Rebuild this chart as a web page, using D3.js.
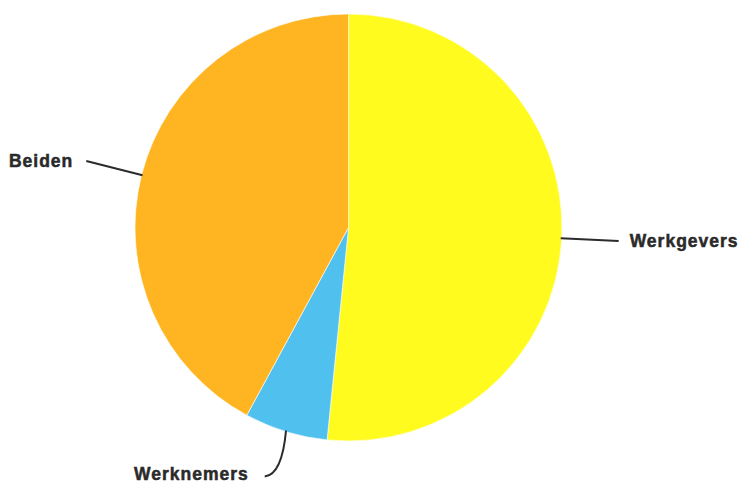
<!DOCTYPE html>
<html>
<head>
<meta charset="utf-8">
<script src="https://cdn.jsdelivr.net/npm/d3@7"></script>
<style>
  html, body { margin: 0; padding: 0; background: #fff; }
  .label { font-family: "Liberation Sans", Arial, sans-serif; font-weight: 700; font-size: 17.5px; letter-spacing: 1px; fill: #2a2a2a; stroke: #2a2a2a; stroke-width: 0.5px; }
</style>
</head>
<body>
<div id="chart"></div>
<script>
// Data (shares in %)
var categories = ['Werkgevers', 'Werknemers', 'Beiden'];
var values = [51.6, 6.3, 42.1];
var colors = ['#fffb1f', '#50c0ef', '#ffb521'];

var width = 745, height = 484;
var cx = 348.5, cy = 227.5, radius = 213.5;

var svg = d3.select('#chart').append('svg')
    .attr('width', width)
    .attr('height', height);

var data = categories.map(function (c, i) { return { name: c, value: values[i], color: colors[i] }; });

var pie = d3.pie().sort(null).value(function (d) { return d.value; });
var arc = d3.arc().innerRadius(0).outerRadius(radius);

var g = svg.append('g').attr('transform', 'translate(' + cx + ',' + cy + ')');
var arcs = pie(data);

g.selectAll('path.slice')
    .data(arcs)
    .join('path')
    .attr('class', 'slice')
    .attr('d', arc)
    .attr('fill', function (d) { return d.data.color; })
    .attr('stroke', '#fff')
    .attr('stroke-width', 0.6);

function mid(d) { return (d.startAngle + d.endAngle) / 2; }
function point(a, r) { return [Math.sin(a) * r, -Math.cos(a) * r]; }
function isBottom(d) { return Math.abs(Math.cos(mid(d))) > 0.8; }

// leader end point; the bottom one drops and bends to the left like in the picture
function leaderEnd(d) {
    var p0 = point(mid(d), radius);
    if (isBottom(d)) return [p0[0] - 21, p0[1] + 45];
    return point(mid(d), radius + 57);
}

g.selectAll('path.leader')
    .data(arcs)
    .join('path')
    .attr('class', 'leader')
    .attr('fill', 'none')
    .attr('stroke', '#2b2b2b')
    .attr('stroke-width', 2)
    .attr('d', function (d) {
        var p0 = point(mid(d), radius - 1);
        var p2 = leaderEnd(d);
        var p1 = isBottom(d) ? [p0[0] - 4, p2[1] - 2] : point(mid(d), radius + 35);
        return 'M' + p0 + 'Q' + p1 + ' ' + p2;
    });

g.selectAll('text.label')
    .data(arcs)
    .join('text')
    .attr('class', 'label')
    .attr('text-anchor', function (d) { return Math.sin(mid(d)) >= 0 ? 'start' : 'end'; })
    .attr('x', function (d) {
        var p = leaderEnd(d);
        if (isBottom(d)) return p[0] - 16;
        return p[0] + (Math.sin(mid(d)) >= 0 ? 11 : -13);
    })
    .attr('y', function (d) { return leaderEnd(d)[1] - (isBottom(d) ? 3 : 0); })
    .attr('dy', '0.36em')
    .text(function (d) { return d.data.name; });
</script>
</body>
</html>
